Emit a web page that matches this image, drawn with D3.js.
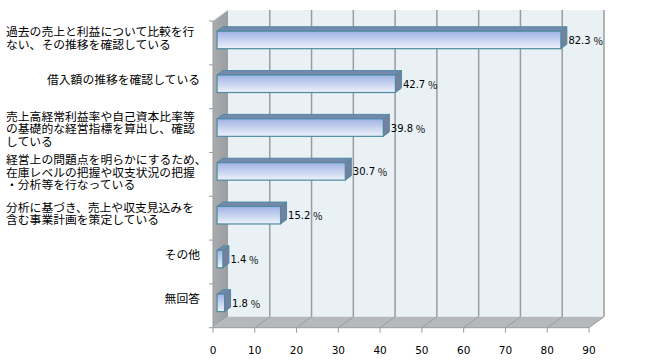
<!DOCTYPE html>
<html><head><meta charset="utf-8">
<script src="https://cdn.jsdelivr.net/npm/d3@7/dist/d3.min.js"></script>
<style>body{margin:0;background:#fff}svg{display:block}</style>
</head><body>
<svg id="c" width="650" height="360"></svg>
<script>
const categories = [
  "過去の売上と利益について比較を行\nない、その推移を確認している",
  "借入額の推移を確認している",
  "売上高経常利益率や自己資本比率等\nの基礎的な経営指標を算出し、確認\nしている",
  "経営上の問題点を明らかにするため、\n在庫レベルの把握や収支状況の把握\n・分析等を行なっている",
  "分析に基づき、売上や収支見込みを\n含む事業計画を策定している",
  "その他",
  "無回答"
];
const values = [82.3, 42.7, 39.8, 30.7, 15.2, 1.4, 1.8];
const xTicks = [0, 10, 20, 30, 40, 50, 60, 70, 80, 90];
const valueSuffix = "％";

(function () {
const svg = d3.select("#c");
const x = d3.scaleLinear().domain([0, 90]).range([213, 589]);
const y = d3.scaleBand().domain(categories).range([21, 327.7]).paddingInner(0.6).paddingOuter(0.3);
const yStep = d3.scaleBand().domain(categories).range([21, 327.7]).padding(0);
const DX = 15, DY = -11;
const f0 = 0.27, f1 = 0.67;
const yTopPlot = 21, yBotPlot = 327.7;
const pt = (px, py, f) => [px + DX * f, py + DY * f];
const poly = pts => pts.map(p => p.join(",")).join(" ");

const defs = svg.append("defs");
const g = defs.append("linearGradient").attr("id", "barGrad").attr("x1", 0).attr("y1", 0).attr("x2", 0).attr("y2", 1);
g.append("stop").attr("offset", "0%").attr("stop-color", "#9fb2e4");
g.append("stop").attr("offset", "100%").attr("stop-color", "#eef2fb");
const wg = defs.append("linearGradient").attr("id", "wallGrad").attr("x1", 0).attr("y1", 0).attr("x2", 1).attr("y2", 0);
wg.append("stop").attr("offset", "0%").attr("stop-color", "#a9abae");
wg.append("stop").attr("offset", "100%").attr("stop-color", "#9a9da1");

// back wall
svg.append("polygon")
  .attr("points", poly([pt(x(0), yTopPlot, 1), pt(x(90), yTopPlot, 1), pt(x(90), yBotPlot, 1), pt(x(0), yBotPlot, 1)]))
  .attr("fill", "#e9f1f5");
// left wall
svg.append("polygon")
  .attr("points", poly([[x(0), yTopPlot], pt(x(0), yTopPlot, 1), pt(x(0), yBotPlot, 1), [x(0), yBotPlot]]))
  .attr("fill", "url(#wallGrad)");
svg.append("line")
  .attr("x1", x(0)).attr("y1", yTopPlot).attr("x2", x(0) + DX).attr("y2", yTopPlot + DY)
  .attr("stroke", "#d8d8d8").attr("stroke-width", 1);
// floor
svg.append("polygon")
  .attr("points", poly([[x(0), yBotPlot], [x(90), yBotPlot], pt(x(90), yBotPlot, 1), pt(x(0), yBotPlot, 1)]))
  .attr("fill", "#b5b9bc");

// back wall gridlines
svg.append("g").selectAll("line").data(xTicks.slice(1)).join("line")
  .attr("x1", d => x(d) + DX).attr("x2", d => x(d) + DX)
  .attr("y1", yTopPlot + DY).attr("y2", yBotPlot + DY)
  .attr("stroke", "#9a9c9f").attr("stroke-width", 1.5);
// floor gridlines
svg.append("g").selectAll("line").data(xTicks.slice(1)).join("line")
  .attr("x1", d => x(d)).attr("y1", yBotPlot)
  .attr("x2", d => x(d) + DX).attr("y2", yBotPlot + DY)
  .attr("stroke", "#9a9c9f").attr("stroke-width", 1);

// axes lines
svg.append("line").attr("x1", x(0)).attr("x2", x(90)).attr("y1", yBotPlot).attr("y2", yBotPlot)
  .attr("stroke", "#9a9c9f").attr("stroke-width", 1);
svg.append("line").attr("x1", x(0)).attr("x2", x(0)).attr("y1", yTopPlot).attr("y2", yBotPlot)
  .attr("stroke", "#9a9c9f").attr("stroke-width", 1);
svg.append("g").selectAll("line").data(xTicks).join("line")
  .attr("x1", d => x(d)).attr("x2", d => x(d)).attr("y1", yBotPlot).attr("y2", yBotPlot + 5)
  .attr("stroke", "#9a9c9f");
const boundaries = categories.map(c => yStep(c)).concat([yBotPlot]);
svg.append("g").selectAll("line").data(boundaries).join("line")
  .attr("x1", x(0) - 4).attr("x2", x(0)).attr("y1", d => d).attr("y2", d => d)
  .attr("stroke", "#9a9c9f");

// x tick labels
svg.append("g").selectAll("text").data(xTicks).join("text")
  .attr("x", d => x(d)).attr("y", 354)
  .attr("text-anchor", "middle")
  .attr("font-family", "DejaVu Sans, Verdana, sans-serif").attr("font-size", "10.5px")
  .attr("fill", "#000").text(d => d);

// bars
const bars = svg.append("g").selectAll("g").data(categories.map((c, i) => ({c, v: values[i]}))).join("g");
bars.each(function(d) {
  const gg = d3.select(this);
  const yt = y(d.c), yb = y(d.c) + y.bandwidth();
  const x0 = x(0), xv = x(d.v);
  gg.append("polygon")
    .attr("points", poly([pt(x0, yt, f0), pt(x0, yt, f1), pt(xv, yt, f1), pt(xv, yt, f0)]))
    .attr("fill", "#7788ad").attr("stroke", "#4d8ba0").attr("stroke-width", 1).attr("stroke-linejoin", "round");
  gg.append("polygon")
    .attr("points", poly([pt(xv, yt, f0), pt(xv, yt, f1), pt(xv, yb, f1), pt(xv, yb, f0)]))
    .attr("fill", "#74819e").attr("stroke", "#4d8ba0").attr("stroke-width", 1).attr("stroke-linejoin", "round");
  const p = pt(x0, yt, f0);
  gg.append("rect")
    .attr("x", p[0]).attr("y", p[1]).attr("width", xv - x0).attr("height", yb - yt)
    .attr("fill", "url(#barGrad)").attr("stroke", "#4d8ba0").attr("stroke-width", 1.2);
  const t = gg.append("text")
    .attr("x", xv + DX * f1 + 1.5).attr("y", (yt + yb) / 2 + DY * f0)
    .attr("dominant-baseline", "central")
    .attr("font-family", "DejaVu Sans, Verdana, sans-serif").attr("font-size", "10px")
    .attr("fill", "#000");
  t.append("tspan").text(d.v.toFixed(1));
  t.append("tspan").attr("dx", 2.5).attr("font-family", "'Noto Sans CJK JP', sans-serif").attr("font-size", "10px").text(valueSuffix);
});

// category labels
const lh = 12.5;
categories.forEach(c => {
  const lines = c.split("\n");
  const n = lines.length;
  const cy = yStep(c) + yStep.bandwidth() / 2 - 3 - 2.8 * (3 - n);
  const t = svg.append("g");
  lines.forEach((ln, i) => t.append("text")
    .attr("x", n > 1 ? 6 : 200)
    .attr("text-anchor", n > 1 ? "start" : "end")
    .attr("y", cy + (i - (n - 1) / 2) * lh)
    .attr("dominant-baseline", "central")
    .attr("font-family", "'Noto Sans CJK JP', sans-serif").attr("font-size", "11.8px")
    .attr("fill", "#000").text(ln));
});
})();
</script>
</body></html>
